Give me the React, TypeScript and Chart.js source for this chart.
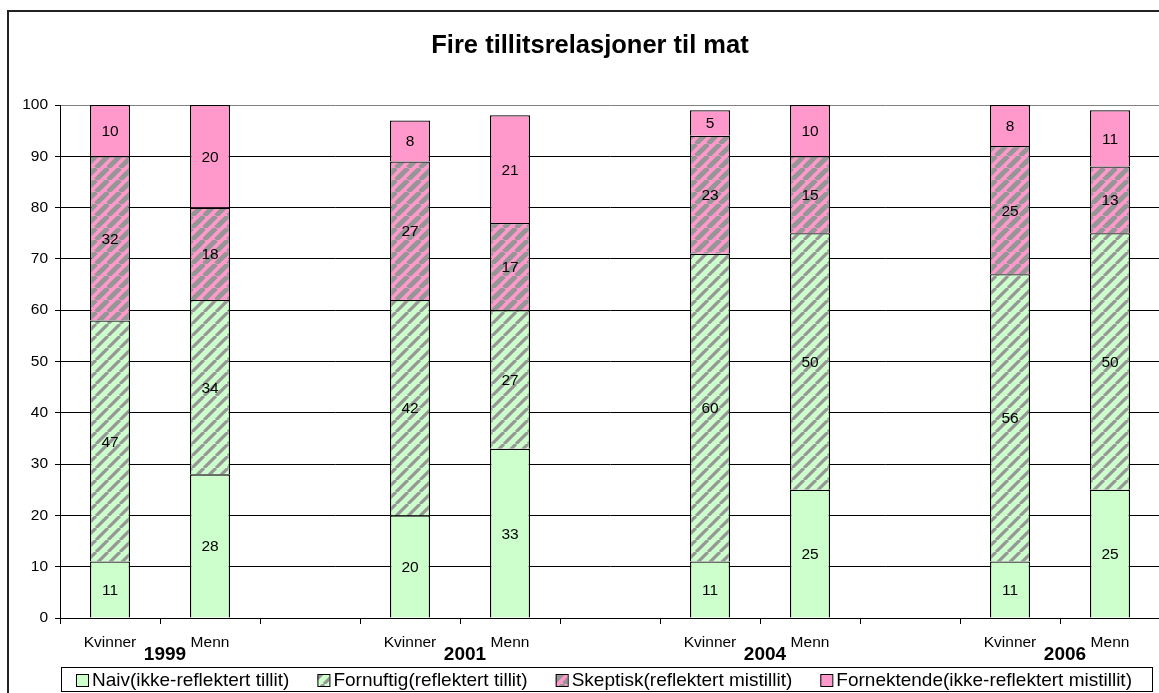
import React, { useEffect, useRef } from 'react';
import { Chart, registerables } from 'chart.js';
Chart.register(...registerables);

const categories = ['Kvinner', 'Menn', '', 'Kvinner', 'Menn', '', 'Kvinner', 'Menn', '', 'Kvinner', 'Menn'];
const years = ['1999', '2001', '2004', '2006'];
const naiv = [11, 28, null, 20, 33, null, 11, 25, null, 11, 25];
const fornuftig = [47, 34, null, 42, 27, null, 60, 50, null, 56, 50];
const skeptisk = [32, 18, null, 27, 17, null, 23, 15, null, 25, 13];
const fornektende = [10, 20, null, 8, 21, null, 5, 10, null, 8, 11];
const seriesNames = [
  'Naiv(ikke-reflektert tillit)',
  'Fornuftig(reflektert tillit)',
  'Skeptisk(reflektert mistillit)',
  'Fornektende(ikke-reflektert mistillit)',
];
const titleText = 'Fire tillitsrelasjoner til mat';

const FONT = '"Liberation Sans", Arial, sans-serif';
const GREEN = '#ccffcc';
const PINK = '#ff99cc';
const GRAY = '#969696';

function makePattern(bg: string, fg: string, lw: number, s: number) {
  const c = document.createElement('canvas');
  c.width = s;
  c.height = s;
  const g = c.getContext('2d')!;
  g.fillStyle = bg;
  g.fillRect(0, 0, s, s);
  g.strokeStyle = fg;
  g.lineWidth = lw;
  g.beginPath();
  for (let k = -1; k <= 1; k++) {
    g.moveTo(k * s, s);
    g.lineTo(k * s + s, 0);
  }
  g.stroke();
  return g.createPattern(c, 'repeat')!;
}

export default function App() {
  const ref = useRef<HTMLCanvasElement>(null);
  useEffect(() => {
    document.body.style.margin = '0';
    const canvas = ref.current!;
    const greenPat = makePattern(GREEN, GRAY, 3.2, 12);
    const pinkPat = makePattern(PINK, GRAY, 4.8, 12);
    const fills: any[] = [GREEN, greenPat, pinkPat, PINK];
    const seriesData = [naiv, fornuftig, skeptisk, fornektende];

    const decor = {
      id: 'decor',
      afterDatasetsDraw(chart: any) {
        const ctx = chart.ctx;
        ctx.save();
        ctx.fillStyle = '#000';
        ctx.font = `15.5px ${FONT}`;
        ctx.textAlign = 'center';
        ctx.textBaseline = 'alphabetic';
        seriesData.forEach((arr, i) => {
          const meta = chart.getDatasetMeta(i);
          meta.data.forEach((bar: any, j: number) => {
            const v = arr[j];
            if (v == null) return;
            const p = bar.getProps(['x', 'y', 'base'], true);
            const cy = (p.y + p.base) / 2;
            ctx.fillText(String(v), p.x, cy + 5.5);
          });
        });
        ctx.restore();
      },
      afterDraw(chart: any) {
        const ctx = chart.ctx;
        const xs = chart.scales.x;
        ctx.save();
        // outer border
        ctx.strokeStyle = '#222';
        ctx.lineWidth = 2;
        ctx.strokeRect(8, 11, 1300, 900);
        // title
        ctx.fillStyle = '#000';
        ctx.textAlign = 'center';
        ctx.textBaseline = 'alphabetic';
        ctx.font = `bold 25.5px ${FONT}`;
        ctx.fillText(titleText, 590, 53);
        // category labels
        ctx.font = `15.5px ${FONT}`;
        categories.forEach((c, j) => {
          if (!c) return;
          ctx.fillText(c, xs.getPixelForValue(j), 647);
        });
        ctx.font = `bold 19px ${FONT}`;
        years.forEach((y, k) => {
          const mid = (xs.getPixelForValue(3 * k) + xs.getPixelForValue(3 * k + 1)) / 2 + 5;
          ctx.fillText(y, mid, 660);
        });
        // legend
        const boxL = 61, boxT = 667, boxR = 1152, boxB = 691;
        ctx.fillStyle = '#fff';
        ctx.fillRect(boxL, boxT, boxR - boxL, boxB - boxT);
        ctx.strokeStyle = '#000';
        ctx.lineWidth = 1;
        ctx.strokeRect(boxL + 0.5, boxT + 0.5, boxR - boxL, boxB - boxT);
        ctx.font = `19px ${FONT}`;
        ctx.textAlign = 'left';
        let x = 76;
        seriesNames.forEach((name, i) => {
          ctx.fillStyle = fills[i];
          ctx.fillRect(x, 674, 12, 12);
          ctx.strokeStyle = '#000';
          ctx.strokeRect(x + 0.5, 674.5, 12, 12);
          ctx.fillStyle = '#000';
          ctx.fillText(name, x + 16, 686);
          x += 16 + ctx.measureText(name).width + 28;
        });
        ctx.restore();
      },
    };

    const chart = new Chart(canvas, {
      type: 'bar',
      data: {
        labels: categories,
        datasets: seriesNames.map((name, i) => ({
          label: name,
          data: seriesData[i] as any,
          backgroundColor: fills[i],
          borderColor: '#000',
          borderWidth: 1.3,
          barPercentage: 0.4,
          categoryPercentage: 1,
        })),
      },
      options: {
        animation: false,
        responsive: false,
        devicePixelRatio: 1,
        layout: { padding: { top: 105, right: 40, bottom: 0, left: 0 } },
        plugins: {
          legend: { display: false },
          title: { display: false },
          tooltip: { enabled: false },
        },
        scales: {
          x: {
            stacked: true,
            offset: true,
            afterFit: (s: any) => { s.height = 75; },
            grid: {
              offset: true,
              drawOnChartArea: false,
              drawTicks: true,
              tickLength: 6,
              color: '#000',
            },
            border: { display: true, color: '#000', width: 1 },
            ticks: { display: false, autoSkip: false },
          },
          y: {
            stacked: true,
            min: 0,
            max: 100,
            afterFit: (s: any) => { s.width = 60; },
            ticks: {
              stepSize: 10,
              color: '#000',
              padding: 7,
              font: { family: FONT, size: 15.5 },
            },
            grid: {
              color: (c: any) => (c.tick && c.tick.value === 100 ? '#808080' : '#000'),
              tickColor: '#000',
              tickLength: 5,
              drawTicks: true,
            },
            border: { display: true, color: '#000', width: 1 },
          },
        },
      },
      plugins: [decor],
    });
    return () => chart.destroy();
  }, []);
  return (
    <div style={{ width: 1159, height: 693, overflow: 'hidden', position: 'relative', background: '#fff' }}>
      <canvas ref={ref} width={1200} height={693} style={{ display: 'block', width: 1200, height: 693 }} />
    </div>
  );
}
